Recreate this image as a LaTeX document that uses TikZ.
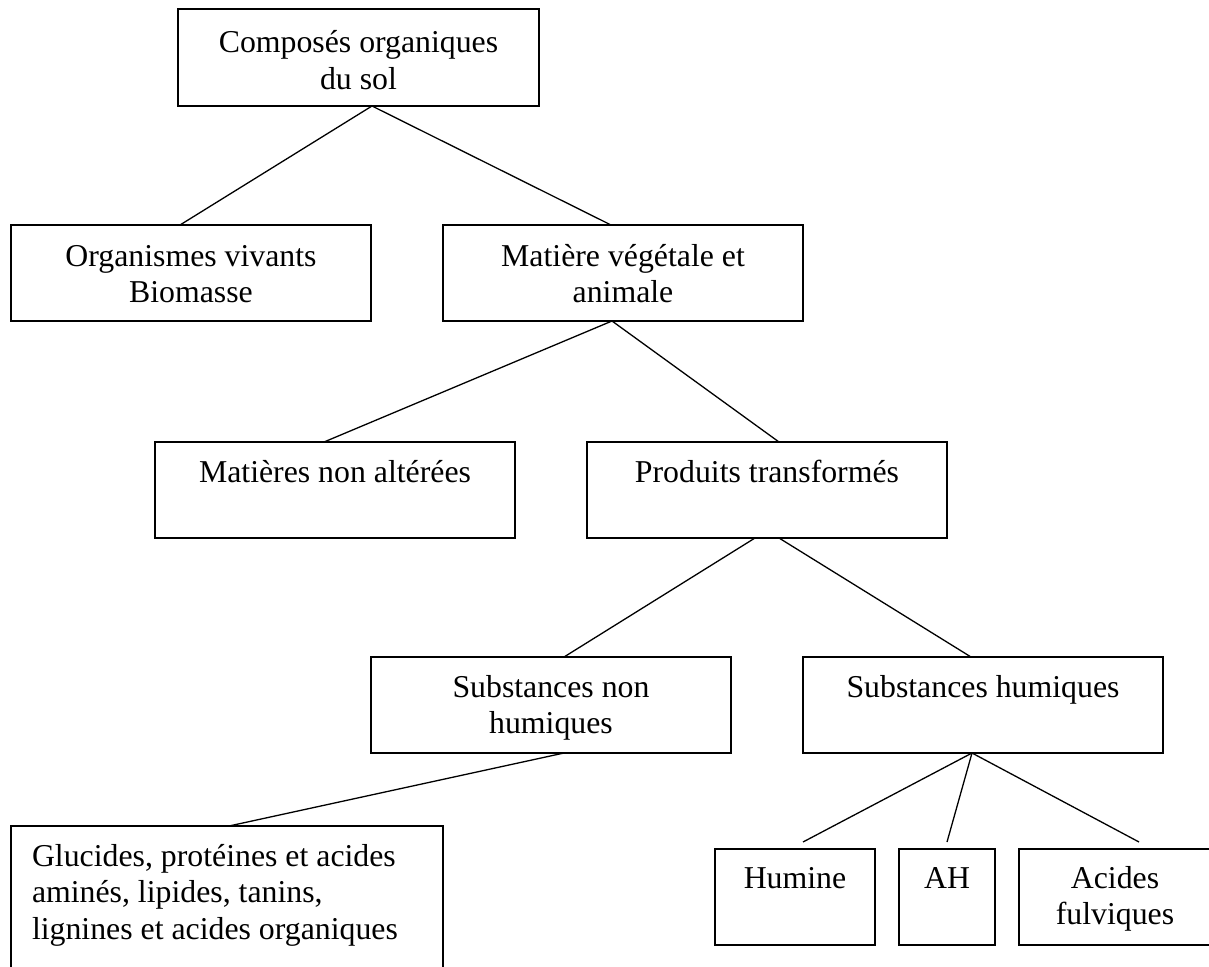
\documentclass[tikz,border=0pt]{standalone}
\usepackage{fontspec}
\setmainfont{Liberation Serif}
\newcommand\myst{\rule{0pt}{30pt}}
\begin{document}
\begin{tikzpicture}[x=1pt,y=-1pt,
  bx/.style={draw, line width=1.3pt, inner sep=0pt, outer sep=0pt},
  txt/.style={inner sep=0pt, outer sep=0pt, anchor=north, align=center, font=\fontsize{31.8}{36.5}\selectfont},
  ln/.style={line width=1.3pt}]
\useasboundingbox (0,0) rectangle (1209,966);
\clip (0,0) rectangle (1209,966);

% boxes
\node[bx, minimum width=361pt, minimum height=97pt] (top) at (358.5,57.5) {};
\node[bx, minimum width=360pt, minimum height=96pt] (org) at (191,273) {};
\node[bx, minimum width=360pt, minimum height=96pt] (mat) at (623,273) {};
\node[bx, minimum width=360pt, minimum height=96pt] (nalt) at (335,490) {};
\node[bx, minimum width=360pt, minimum height=96pt] (prod) at (767,490) {};
\node[bx, minimum width=360pt, minimum height=96pt] (snh) at (551,705) {};
\node[bx, minimum width=360pt, minimum height=96pt] (sh) at (983,705) {};
\node[bx, minimum width=432pt, minimum height=174pt] (glu) at (227,913) {};
\node[bx, minimum width=160pt, minimum height=96pt] (hum) at (795,897) {};
\node[bx, minimum width=96pt, minimum height=96pt] (ah) at (947,897) {};
\node[bx, minimum width=192pt, minimum height=96pt] (af) at (1115,897) {};

% texts
\node[txt] (ttop) at ([yshift=-13.5pt]top.north) {\myst Composés organiques\\du sol};
\node[txt] (torg) at ([yshift=-11pt]org.north) {\myst Organismes vivants\\Biomasse};
\node[txt] (tmat) at ([yshift=-11pt]mat.north) {\myst Matière végétale et\\animale};
\node[txt] (tnalt) at ([yshift=-10pt]nalt.north) {\myst Matières non altérées};
\node[txt] (tprod) at ([yshift=-10pt]prod.north) {\myst Produits transformés};
\node[txt] (tsnh) at ([yshift=-10pt]snh.north) {\myst Substances non\\humiques};
\node[txt] (tsh) at ([yshift=-10pt]sh.north) {\myst Substances humiques};
\node[txt, anchor=north west, align=left] (tglu) at ([xshift=21pt,yshift=-10pt]glu.north west)
  {\myst Glucides, protéines et acides\\aminés, lipides, tanins,\\lignines et acides organiques};
\node[txt] (thum) at ([yshift=-9pt]hum.north) {\myst Humine};
\node[txt] (tah) at ([yshift=-9pt]ah.north) {\myst AH};
\node[txt] (taf) at ([yshift=-9pt]af.north) {\myst Acides\\fulviques};

% connectors
\draw[ln] ([xshift=13.5pt]top.south) -- ([xshift=-11pt]org.north);
\draw[ln] ([xshift=13.5pt]top.south) -- ([xshift=-12pt]mat.north);
\draw[ln] ([xshift=-11pt]mat.south) -- ([xshift=-11pt]nalt.north);
\draw[ln] ([xshift=-11pt]mat.south) -- ([xshift=12pt]prod.north);
\draw[ln] ([xshift=-12pt]prod.south) -- ([xshift=13pt]snh.north);
\draw[ln] ([xshift=12pt]prod.south) -- ([xshift=-12pt]sh.north);
\draw[ln] ([xshift=13pt]snh.south) -- ([xshift=2pt]glu.north);
\draw[ln] ([xshift=-11pt]sh.south) -- ([xshift=8pt,yshift=7pt]hum.north);
\draw[ln] ([xshift=-11pt]sh.south) -- ([yshift=7pt]ah.north);
\draw[ln] ([xshift=-11pt]sh.south) -- ([xshift=24pt,yshift=7pt]af.north);
\end{tikzpicture}
\end{document}
